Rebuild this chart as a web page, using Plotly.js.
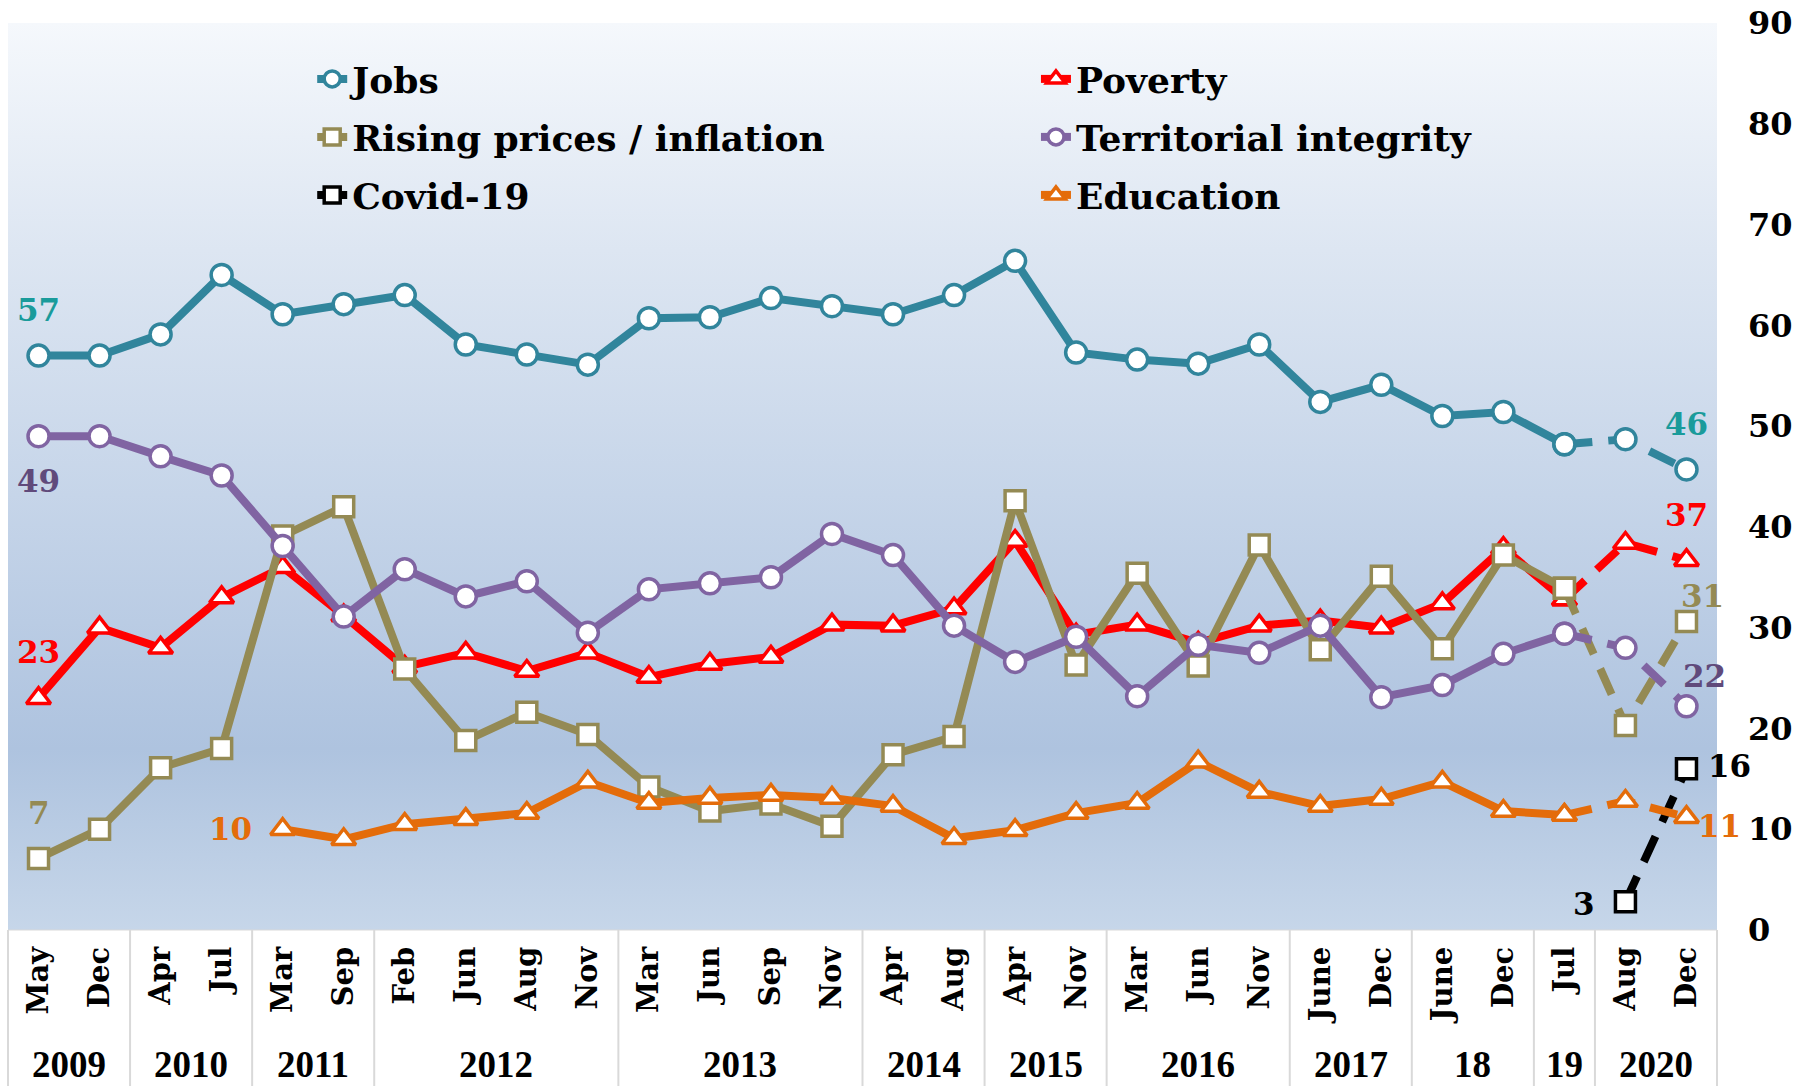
<!DOCTYPE html>
<html><head><meta charset="utf-8">
<script src="https://cdn.plot.ly/plotly-3.0.1.min.js"></script>
<style>
html,body{margin:0;padding:0;background:#ffffff;}
#wrap{position:relative;width:1810px;height:1086px;overflow:hidden;}
#bg{position:absolute;left:8px;top:23px;width:1709px;height:907px;
 background:linear-gradient(to bottom,#f5f8fc 0%,#dde6f2 25%,#c6d5e9 52%,#aec3df 80%,#c6d6e9 100%);}
#chart{position:absolute;left:0;top:0;width:1810px;height:1086px;}
</style></head>
<body><div id="wrap"><div id="bg"></div><div id="chart"></div></div>
<script>
// ---- data ----
const months = ['May','Dec','Apr','Jul','Mar','Sep','Feb','Jun','Aug','Nov','Mar','Jun','Sep','Nov','Apr','Aug','Apr','Nov','Mar','Jun','Nov','June','Dec','June','Dec','Jul','Aug','Dec'];
const yearLabels = ['2009','2010','2011','2012','2013','2014','2015','2016','2017','18','19','2020'];
const yearCounts = [2,2,2,4,4,2,2,3,2,2,1,2];

const jobs      = [57,57,59.1,65,61.1,62.1,63,58.1,57.1,56.1,60.7,60.8,62.7,61.9,61.1,63,66.4,57.3,56.6,56.2,58.1,52.4,54.1,51,51.4,48.2,48.7,45.7];
const poverty   = [23,30,28,33,36,31.2,26.1,27.5,25.7,27.5,25.1,26.4,27.1,30.3,30.2,31.9,38.6,29.3,30.3,28.5,30.2,30.7,30,32.4,37.9,32.8,38.4,36.7];
const prices    = [7.1,10,16.1,18,39.1,42,25.9,18.8,21.6,19.4,14.2,11.8,12.5,10.3,17.4,19.2,42.6,26.3,35.4,26.2,38.2,27.8,35.1,27.9,37.2,33.9,20.3,30.6];
const territory = [49,49,47,45.1,38.1,31.1,35.8,33.1,34.6,29.5,33.8,34.4,35,39.3,37.2,30.2,26.6,29.1,23.2,28.3,27.5,30.2,23.1,24.3,27.4,29.4,28,22.2];
const covid     = [null,null,null,null,null,null,null,null,null,null,null,null,null,null,null,null,null,null,null,null,null,null,null,null,null,null,2.8,16];
const education = [null,null,null,null,10,9,10.5,11,11.6,14.7,12.6,13.1,13.4,13.1,12.3,9.1,9.9,11.6,12.6,16.7,13.7,12.3,13,14.7,11.8,11.4,12.8,11.2];

const seriesNames = ['Jobs','Poverty','Rising prices / inflation','Territorial integrity','Covid-19','Education'];
const seriesData  = [jobs,poverty,prices,territory,covid,education];
const yTicks = [0,10,20,30,40,50,60,70,80,90];

// ---- styles ----
const colors  = ['#31859c','#ff0000','#948a54','#8064a2','#000000','#e46c0a'];
const symbols = ['circle','triangle-up','square','circle','square','triangle-up'];
const msizes  = [21,21,20,21,20,21];
const legendIds = ['legend','legend2','legend3','legend4','legend5','legend6'];
const dashStart = 25; // last survey in solid run

const xs = months.map((m,i)=>i);
const traces = [];
seriesData.forEach((vals,k)=>{
  const solid = vals.map((v,i)=> i<=dashStart ? v : null);
  const dashed = vals.map((v,i)=> i>=dashStart ? v : null);
  const mk = {symbol:symbols[k], size:msizes[k], color:'#ffffff', line:{color:colors[k], width:3.5}};
  traces.push({x:xs, y:solid, type:'scatter', mode:'lines+markers', name:seriesNames[k],
    legend:legendIds[k], line:{color:colors[k], width:8}, marker:mk, cliponaxis:false, hoverinfo:'skip'});
  traces.push({x:xs, y:dashed, type:'scatter', mode:'lines+markers', name:seriesNames[k], showlegend:false,
    line:{color:colors[k], width:8, dash:'28px,16px'}, marker:mk, cliponaxis:false, hoverinfo:'skip'});
});

// ---- layout ----
const W=1810, H=1086, ml=8, mr=93, mt=23, mb=156;
const plotH = H-mt-mb;
const py = px => (H-mb-px)/plotH;           // pixel row -> paper y
const legendFont = {family:'DejaVu Serif', size:36, color:'#000', weight:'bold'};
const legendPos = [[0.178,py(79)],[0.6015,py(79)],[0.178,py(137)],[0.6015,py(137)],[0.178,py(195)],[0.6015,py(195)]];

const layout = {
  width:W, height:H,
  margin:{l:ml, r:mr, t:mt, b:mb, pad:0},
  paper_bgcolor:'rgba(0,0,0,0)', plot_bgcolor:'rgba(0,0,0,0)',
  font:{family:'DejaVu Serif', color:'#000'},
  xaxis:{range:[-0.5, months.length-0.5], tickmode:'array', tickvals:xs, ticktext:months,
    tickangle:-90, tickfont:{family:'DejaVu Serif', size:29, color:'#000', weight:'bold'},
    showgrid:false, zeroline:false, showline:false, ticks:'', ticklabelstandoff:10, fixedrange:true},
  yaxis:{range:[0,90], side:'right', tickmode:'array', tickvals:yTicks, ticktext:yTicks.map(String),
    tickfont:{family:'DejaVu Serif', size:32, color:'#000', weight:'bold'},
    showgrid:false, zeroline:false, showline:false, ticks:'', ticklabelstandoff:30, fixedrange:true},
  showlegend:true,
  shapes:[], annotations:[]
};
legendIds.forEach((id,k)=>{
  layout[id] = {x:legendPos[k][0], y:legendPos[k][1], xanchor:'left', yanchor:'middle',
    bgcolor:'rgba(0,0,0,0)', borderwidth:0, font:legendFont, orientation:'v'};
});

// category table dividers
const nCat = months.length;
const bottomY = -mb/plotH;
let cum = 0;
const bounds = [0];
yearCounts.forEach(c=>{cum+=c; bounds.push(cum);});
bounds.forEach(b=>{
  layout.shapes.push({type:'line', xref:'paper', yref:'paper', x0:b/nCat, x1:b/nCat, y0:0, y1:bottomY,
    line:{color:'#d9d9d9', width:2}});
});
layout.shapes.push({type:'line', xref:'paper', yref:'paper', x0:0, x1:1, y0:0, y1:0, line:{color:'#d9d9d9', width:1}});

// year labels
let start = 0;
yearLabels.forEach((lab,k)=>{
  const c = start + (yearCounts[k]-1)/2;
  layout.annotations.push({x:c, xref:'x', y:py(1064), yref:'paper', text:lab, showarrow:false,
    xanchor:'center', yanchor:'middle', font:{family:'Liberation Serif', size:37, color:'#000', weight:'bold'}});
  start += yearCounts[k];
});

// data labels
const last = nCat-1;
function lab(series, i, color, dx, dy){
  const v = series[i];
  layout.annotations.push({x:i, y:v, xref:'x', yref:'y', text:String(Math.round(v)), showarrow:false,
    xshift:dx, yshift:dy, xanchor:'center', yanchor:'middle',
    font:{family:'DejaVu Serif', size:31, color:color, weight:'bold'}});
}
lab(jobs,0,'#1a9b9b',0,46);
lab(territory,0,'#604a7b',0,-45);
lab(poverty,0,'#ff0000',0,46);
lab(prices,0,'#948a54',0,45);
lab(education,4,'#e46c0a',-52,0);
lab(jobs,last,'#1a9b9b',0,45);
lab(poverty,last,'#ff0000',0,45);
lab(prices,last,'#948a54',16,26);
lab(territory,last,'#604a7b',18,30);
lab(covid,last,'#000000',43,3);
lab(education,last,'#e46c0a',33,-9);
lab(covid,last-1,'#000000',-41,-2);

Plotly.newPlot('chart', traces, layout, {staticPlot:true, displayModeBar:false});
</script>
</body></html>
